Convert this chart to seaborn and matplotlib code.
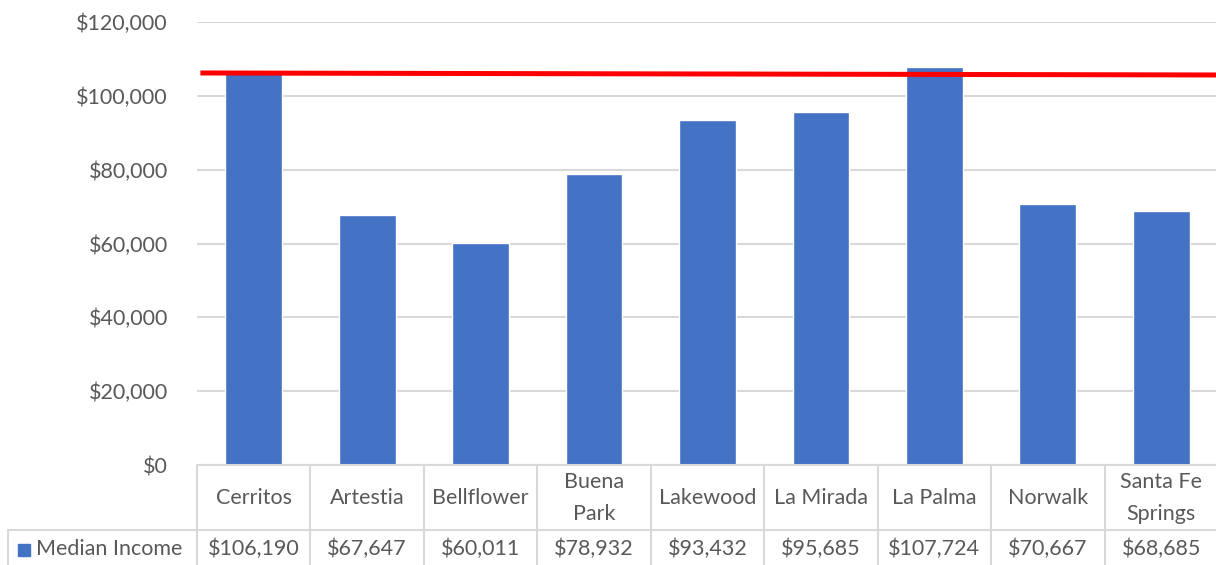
import seaborn as sns
import matplotlib.pyplot as plt
from matplotlib.patches import Rectangle

# data
cities = ['Cerritos', 'Artestia', 'Bellflower', 'Buena Park', 'Lakewood',
          'La Mirada', 'La Palma', 'Norwalk', 'Santa Fe Springs']
city_labels = ['Cerritos', 'Artestia', 'Bellflower', 'Buena\nPark', 'Lakewood',
               'La Mirada', 'La Palma', 'Norwalk', 'Santa Fe\nSprings']
income = [106190, 67647, 60011, 78932, 93432, 95685, 107724, 70667, 68685]
ref_line = [106190, 105650]  # red line, left end / right end
y_ticks = [0, 20000, 40000, 60000, 80000, 100000, 120000]

W, H = 1216, 565
sns.set_style('white')
plt.rcParams['font.family'] = ['Lato', 'DejaVu Sans']

fig = plt.figure(figsize=(W / 100, H / 100), dpi=100)
ax = fig.add_axes([197 / W, 100 / H, 1021 / W, 443 / H])

txt = '#595959'
grid = '#D9D9D9'
fs = 15.5

sns.barplot(x=cities, y=income, color='#4472C4', width=0.5, ax=ax,
            saturation=1, zorder=2)

# red reference line
ax.plot([-0.47, 8.5], ref_line, color='#FF0000', lw=3.6, zorder=3,
        solid_capstyle='butt')

ax.set_xlim(-0.5, 8.5)
ax.set_ylim(0, 120000)
ax.set_yticks(y_ticks)
ax.set_yticklabels(['${:,.0f}'.format(v) for v in y_ticks])
ax.tick_params(axis='y', length=0, pad=21, labelsize=fs, labelcolor=txt)
ax.set_xticks([])
ax.set_xlabel('')
ax.set_ylabel('')
ax.yaxis.grid(True, color=grid, lw=1.5, zorder=0)
for s in ax.spines.values():
    s.set_visible(False)

# data table below the plot
tr = ax.get_xaxis_transform()
px = 1 / 443
ax.plot([-0.5, 8.5], [0, 0], color=grid, lw=1.5, transform=tr, clip_on=False)
for b in range(10):
    ax.plot([b - 0.5, b - 0.5], [0, -0.3], color=grid, lw=1.5,
            transform=tr, clip_on=False)
for i, (lab, v) in enumerate(zip(city_labels, income)):
    ax.text(i, -33 * px, lab, ha='center', va='center', fontsize=fs,
            color=txt, linespacing=1.7, transform=tr)
    ax.text(i, -84 * px, '${:,.0f}'.format(v), ha='center', va='center',
            fontsize=fs, color=txt, transform=tr)

# data row line and legend cell
fig.add_artist(plt.Line2D([8 / W, 1], [1 - 530 / H, 1 - 530 / H], color=grid,
                          lw=1.5, transform=fig.transFigure))
fig.add_artist(plt.Line2D([8 / W, 8 / W], [1 - 530 / H, 0], color=grid,
                          lw=1.5, transform=fig.transFigure))
fig.add_artist(Rectangle((18 / W, 1 - 556 / H), 12 / W, 12 / H,
                         color='#4472C4', transform=fig.transFigure))
fig.text(36 / W, 1 - 549 / H, 'Median Income', ha='left', va='center',
         fontsize=fs, color=txt)

fig.savefig('out.png', dpi=100)
